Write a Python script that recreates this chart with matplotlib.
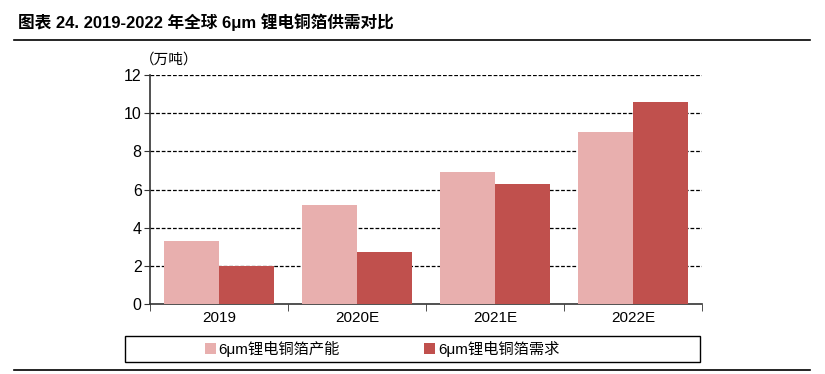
"""2019-2022 年全球 6μm 锂电铜箔供需对比 柱状图"""

import matplotlib
matplotlib.use("Agg")

import matplotlib.pyplot as plt
from matplotlib.lines import Line2D
from matplotlib.patches import Rectangle
import numpy as np

plt.rcParams["font.family"] = ["Liberation Sans", "Noto Sans CJK SC", "DejaVu Sans"]
plt.rcParams["axes.unicode_minus"] = False

# 数据
years = ["2019", "2020E", "2021E", "2022E"]
capacity = [3.3, 5.2, 6.9, 9.0]   # 6μm锂电铜箔产能
demand = [2.0, 2.7, 6.3, 10.6]    # 6μm锂电铜箔需求
series_names = ["6μm锂电铜箔产能", "6μm锂电铜箔需求"]
y_ticks = [0, 2, 4, 6, 8, 10, 12]

colors = ["#E8AFAE", "#C0504D"]

fig = plt.figure(figsize=(8.25, 3.74), dpi=100)
ax = fig.add_axes([150 / 825, 1 - 304 / 374, 552 / 825, 229 / 374])

x = np.arange(len(years))
w = 0.4
ax.bar(x - w / 2, capacity, w, color=colors[0], label=series_names[0], zorder=3)
ax.bar(x + w / 2, demand, w, color=colors[1], label=series_names[1], zorder=3)

ax.set_xlim(-0.5, len(years) - 0.5)
ax.set_ylim(0, 12)
ax.set_yticks(y_ticks)
ax.set_yticklabels([str(v) for v in y_ticks], fontsize=11.5)
ax.set_xticks(x)
ax.set_xticklabels(years, fontsize=11)
ax.tick_params(axis="x", length=0, pad=5)
ax.set_xticks(np.arange(-0.5, len(years)), minor=True)
ax.tick_params(axis="x", which="minor", length=5, direction="out", color="#333333")
ax.tick_params(axis="y", length=4, direction="out", color="#333333", pad=2)

for v in y_ticks[1:]:
    ax.axhline(v, color="black", linestyle=(0, (3, 1.5)), linewidth=0.9, zorder=1)

for side in ["top", "right"]:
    ax.spines[side].set_visible(False)
for side in ["left", "bottom"]:
    ax.spines[side].set_color("#333333")
    ax.spines[side].set_linewidth(1.2)

# 单位
fig.text(140 / 825, 1 - 60 / 374, "（万吨）", fontsize=10.5, family=["Noto Sans CJK SC"],
         ha="left", va="center")

# 标题
fig.text(18 / 825, 1 - 22 / 374, "图表 24. 2019-2022 年全球 6μm 锂电铜箔供需对比",
         fontsize=12, fontweight="bold", ha="left", va="center")
fig.add_artist(Line2D([14 / 825, 810 / 825], [1 - 40 / 374] * 2, color="black", linewidth=1.2))
fig.add_artist(Line2D([14 / 825, 810 / 825], [1 - 370 / 374] * 2, color="black", linewidth=1.2))

# 图例
fig.add_artist(Rectangle((125 / 825, 1 - 362 / 374), 575 / 825, 26 / 374,
                         fill=False, edgecolor="black", linewidth=1.0))
fig.legend(loc="center", bbox_to_anchor=(382 / 825, 1 - 349 / 374), ncol=2, frameon=False,
           fontsize=11, handlelength=0.7, handleheight=0.7, handletextpad=0.2,
           columnspacing=5.5)

fig.savefig("out.png", dpi=100)
plt.close(fig)
